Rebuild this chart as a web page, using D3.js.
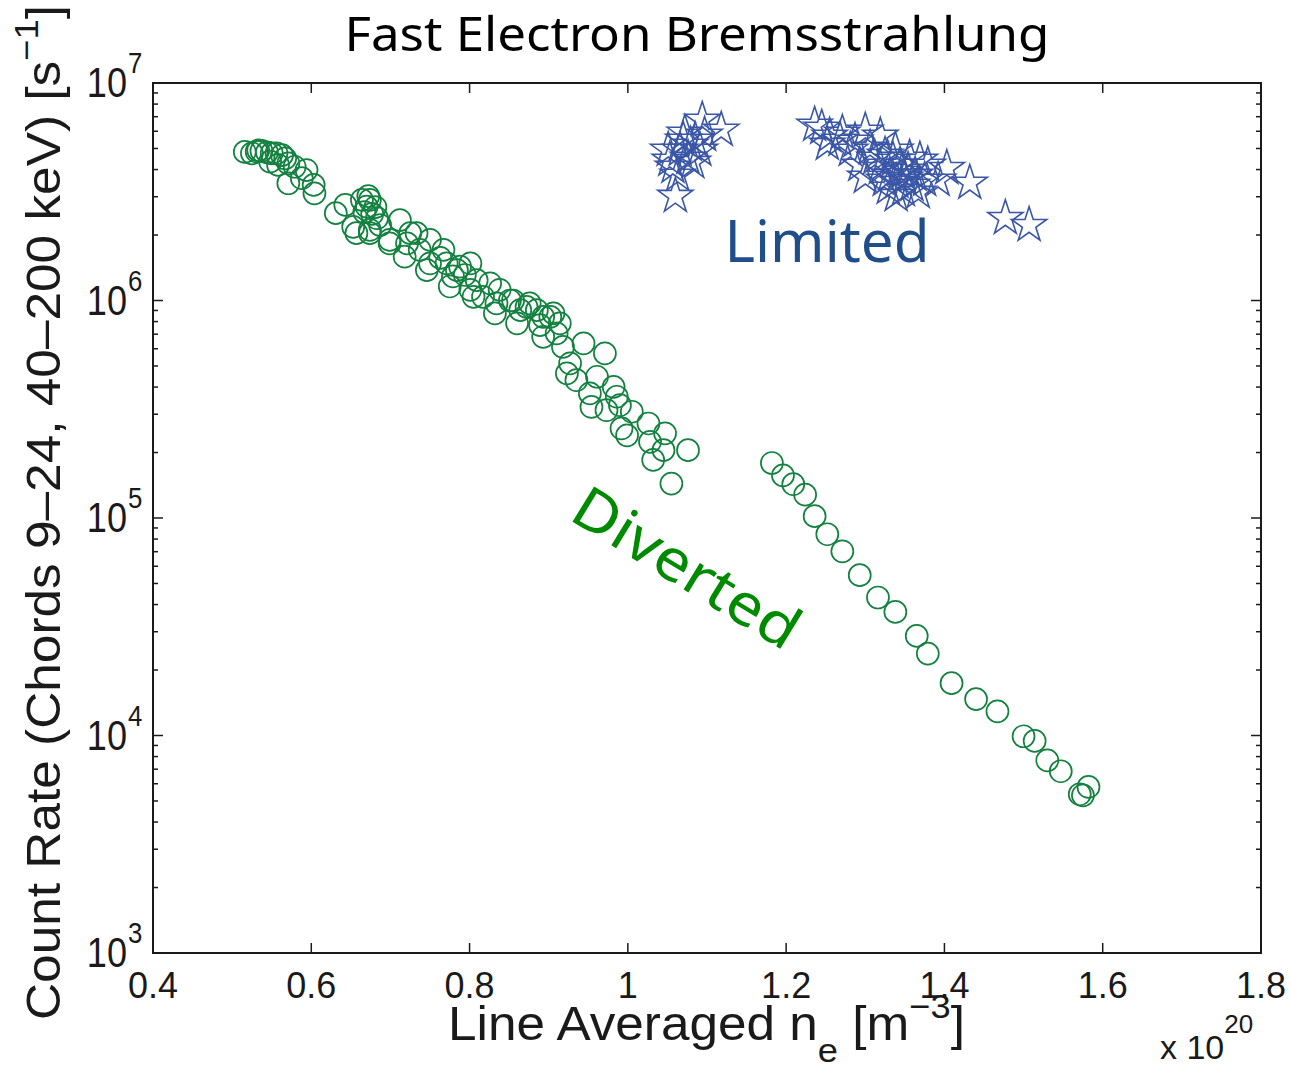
<!DOCTYPE html>
<html>
<head>
<meta charset="utf-8">
<script src="https://cdn.jsdelivr.net/npm/d3@7"></script>
<style>
  html, body { margin: 0; padding: 0; background: #fff; }
  svg { display: block; }
  text { font-family: "Liberation Sans", Arial, sans-serif; fill: #1a1a1a; }
</style>
</head>
<body>
<svg id="chart" width="1291" height="1068"></svg>
<script>
// ---------------- data ----------------
const divertedNe = [
  0.525,0.531,0.537,0.544,0.550,0.556,0.563,0.567,0.571,0.579,0.594,0.571,0.588,0.603,0.604,0.548,0.558,0.533,0.516,
  0.631,0.670,0.664,0.674,0.681,0.667,0.677,0.672,0.653,0.657,0.674,0.683,0.712,0.699,0.718,0.733,0.750,0.721,
  0.771,0.784,0.801,0.750,0.775,0.801,0.809,0.826,0.817,0.834,0.855,0.864,0.876,0.893,0.906,0.914,
  0.674,0.699,0.725,0.746,0.767,0.779,0.788,0.805,0.832,0.851,0.872,0.885,0.860,0.902,0.893,0.910,0.918,0.944,0.971,
  0.923,0.935,0.961,0.982,0.952,0.986,0.927,0.954,0.973,0.990,1.005,0.992,0.999,1.026,1.047,1.028,1.045,1.032,1.076,1.055,
  0.643,0.687,0.737,0.763,0.794,0.838,0.889,
  1.182,1.196,1.209,1.224,1.236,1.252,1.271,1.293,1.316,1.338,1.365,1.379,1.409,1.440,1.467,1.500,1.514,1.530,1.547,1.571,1.575,1.582
];
const divertedRate = [
  4.75e6,4.83e6,4.87e6,4.80e6,4.75e6,4.75e6,4.66e6,4.50e6,4.27e6,4.12e6,3.98e6,3.46e6,3.65e6,3.40e6,3.11e6,4.35e6,4.20e6,4.90e6,4.82e6,
  2.52e6,2.70e6,2.90e6,2.90e6,2.69e6,2.55e6,2.50e6,3.02e6,2.18e6,2.04e6,2.11e6,2.39e6,2.34e6,1.90e6,1.59e6,2.04e6,1.90e6,1.83e6,
  1.48e6,1.38e6,1.48e6,1.48e6,1.16e6,1.12e6,1.24e6,1.20e6,1.04e6,9.70e5,1.00e6,9.03e5,9.70e5,8.41e5,8.72e5,7.85e5,
  2.04e6,1.83e6,2.04e6,1.38e6,1.71e6,1.29e6,1.43e6,1.04e6,8.72e5,1.00e6,9.35e5,9.03e5,7.85e5,8.41e5,6.81e5,7.06e5,6.12e5,6.35e5,5.71e5,
  4.62e5,4.30e5,4.46e5,4.01e5,3.74e5,3.61e5,5.14e5,3.24e5,3.13e5,3.30e5,3.08e5,2.58e5,2.40e5,2.72e5,2.45e5,2.24e5,2.05e5,1.85e5,2.05e5,1.44e5,
  2.75e6,2.22e6,1.71e6,1.57e6,1.31e6,1.12e6,7.71e5,
  1.79e5,1.57e5,1.43e5,1.28e5,1.02e5,8.42e4,7.03e4,5.46e4,4.31e4,3.70e4,2.87e4,2.38e4,1.74e4,1.47e4,1.29e4,9.92e3,9.44e3,7.69e3,6.85e3,5.37e3,5.31e3,5.80e3
];
const limitedNe = [
  1.060,1.094,1.118,1.072,1.079,1.085,1.066,1.053,1.057,1.076,1.091,1.082,1.063,1.097,1.070,1.051,
  1.236,1.245,1.271,1.300,1.319,1.255,1.287,1.252,1.379,1.403,1.432,1.477,1.507,1.300,1.348,
  1.325,1.335,1.344,1.354,1.363,1.331,1.340,1.350,1.359,1.319,1.312,1.369,1.375,1.338,1.306,1.329,1.367,1.281,1.293,1.392,1.346,1.356,1.324,1.268,1.339
];
const limitedRate = [
  3.02e6,6.76e6,6.08e6,5.89e6,5.19e6,5.47e6,4.92e6,4.43e6,4.11e6,4.52e6,4.92e6,4.33e6,3.78e6,5.77e6,5.47e6,4.92e6,
  6.41e6,6.21e6,5.89e6,6.02e6,5.71e6,5.71e6,5.41e6,5.24e6,4.20e6,4.06e6,3.47e6,2.39e6,2.22e6,3.70e6,3.22e6,
  4.66e6,4.43e6,4.20e6,3.98e6,3.78e6,3.78e6,3.51e6,3.66e6,3.40e6,4.06e6,4.52e6,4.43e6,3.58e6,4.92e6,5.02e6,3.29e6,3.15e6,4.92e6,4.20e6,3.58e6,3.90e6,4.52e6,3.58e6,5.47e6,3.05e6
];
const xTicks = [0.4,0.6,0.8,1.0,1.2,1.4,1.6,1.8];
const xTickLabels = ["0.4","0.6","0.8","1","1.2","1.4","1.6","1.8"];
const yTicks = [1e3,1e4,1e5,1e6,1e7];
const yTickExps = ["3","4","5","6","7"];

// ---------------- layout ----------------
const svg = d3.select("#chart");
const L = 153, R = 1261, T = 83, B = 953;
const x = d3.scaleLinear().domain([0.4,1.8]).range([L,R]);
const y = d3.scaleLog().domain([1e3,1e7]).range([B,T]);

const green = "#13813f", blue = "#3a56a6";

// title
svg.append("text").attr("x",697).attr("y",51).attr("text-anchor","middle")
  .attr("textLength",705).attr("lengthAdjust","spacingAndGlyphs")
  .style("font-family","'Noto Sans', sans-serif").style("font-size","48px").style("fill","#000")
  .text("Fast Electron Bremsstrahlung");

// markers
const gPts = svg.append("g");
gPts.selectAll("circle").data(divertedNe.map((d,i)=>[d,divertedRate[i]])).enter()
  .append("circle").attr("cx",d=>x(d[0])).attr("cy",d=>y(d[1])).attr("r",11)
  .attr("fill","none").attr("stroke",green).attr("stroke-width",1.7);

const star = d3.symbol().type(d3.symbolStar).size(18.5*18.5/0.8908130915292852);
gPts.selectAll("path.star").data(limitedNe.map((d,i)=>[d,limitedRate[i]])).enter()
  .append("path").attr("class","star").attr("d",star)
  .attr("transform",d=>`translate(${x(d[0])},${y(d[1])})`)
  .attr("fill","none").attr("stroke",blue).attr("stroke-width",1.6).attr("stroke-linejoin","miter");

// frame
svg.append("rect").attr("x",L).attr("y",T).attr("width",R-L).attr("height",B-T)
  .attr("fill","none").attr("stroke","#1a1a1a").attr("stroke-width",2);

// x ticks (inward, bottom and top)
const axG = svg.append("g").attr("stroke","#1a1a1a").attr("stroke-width",1.5);
xTicks.forEach(t=>{
  axG.append("line").attr("x1",x(t)).attr("x2",x(t)).attr("y1",B).attr("y2",B-10);
  axG.append("line").attr("x1",x(t)).attr("x2",x(t)).attr("y1",T).attr("y2",T+10);
});
// y ticks major + minor
yTicks.forEach(t=>{
  axG.append("line").attr("x1",L).attr("x2",L+10).attr("y1",y(t)).attr("y2",y(t));
  axG.append("line").attr("x1",R).attr("x2",R-10).attr("y1",y(t)).attr("y2",y(t));
  if (t < 1e7) {
    for (let k=2;k<=9;k++){
      const v=t*k;
      axG.append("line").attr("x1",L).attr("x2",L+5).attr("y1",y(v)).attr("y2",y(v));
      axG.append("line").attr("x1",R).attr("x2",R-5).attr("y1",y(v)).attr("y2",y(v));
    }
  }
});

// x tick labels
svg.selectAll("text.xt").data(xTicks).enter().append("text").attr("class","xt")
  .attr("x",d=>x(d)).attr("y",998).attr("text-anchor","middle")
  .style("font-size","36px").text((d,i)=>xTickLabels[i]);

// y tick labels
yTicks.forEach((t,i)=>{
  svg.append("text")
    .attr("transform",`translate(127,${y(t)+14}) scale(0.86,1)`)
    .attr("text-anchor","end").style("font-size","42px").text("10");
  svg.append("text").attr("transform",`translate(128,${y(t)-10}) scale(0.86,1)`)
    .style("font-size","30px").text(yTickExps[i]);
});

// x axis label
const xl = svg.append("text").attr("x",448).attr("y",1040)
  .style("font-size","48px");
xl.append("tspan").text("Line Averaged n");
xl.append("tspan").attr("dy",22).style("font-size","34px").text("e");
xl.append("tspan").attr("dy",-22).text("  [m");
xl.append("tspan").attr("dy",-22).style("font-size","34px").text("\u22123");
xl.append("tspan").attr("dy",22).text("]");
xl.attr("textLength",517).attr("lengthAdjust","spacingAndGlyphs");

// x multiplier
const xm = svg.append("text").attr("x",1160).attr("y",1059).style("font-size","34px");
xm.append("tspan").text("x 10");
xm.append("tspan").attr("dy",-26).style("font-size","26px").text("20");

// y axis label
const yl = svg.append("text")
  .attr("transform","translate(60,1020) rotate(-90)")
  .attr("x",0).attr("y",0)
  .style("font-size","48px");
yl.append("tspan").text("Count Rate (Chords 9\u201324, 40\u2013200 keV) [s");
yl.append("tspan").attr("dy",-22).style("font-size","34px").text("\u22121");
yl.append("tspan").attr("dy",22).text("]");
yl.attr("textLength",1015).attr("lengthAdjust","spacingAndGlyphs");

// annotations
svg.append("text").attr("x",827).attr("y",262).attr("text-anchor","middle")
  .attr("textLength",205).attr("lengthAdjust","spacingAndGlyphs")
  .style("font-family","'Noto Sans', sans-serif").style("font-size","58px").style("fill","#1f4e8b")
  .text("Limited");
svg.append("text").attr("transform","translate(676,585) rotate(31.5)").attr("text-anchor","middle")
  .attr("textLength",255).attr("lengthAdjust","spacingAndGlyphs")
  .style("font-family","'Noto Sans', sans-serif").style("font-size","58px").style("fill","#008a00")
  .text("Diverted");
</script>
</body>
</html>
